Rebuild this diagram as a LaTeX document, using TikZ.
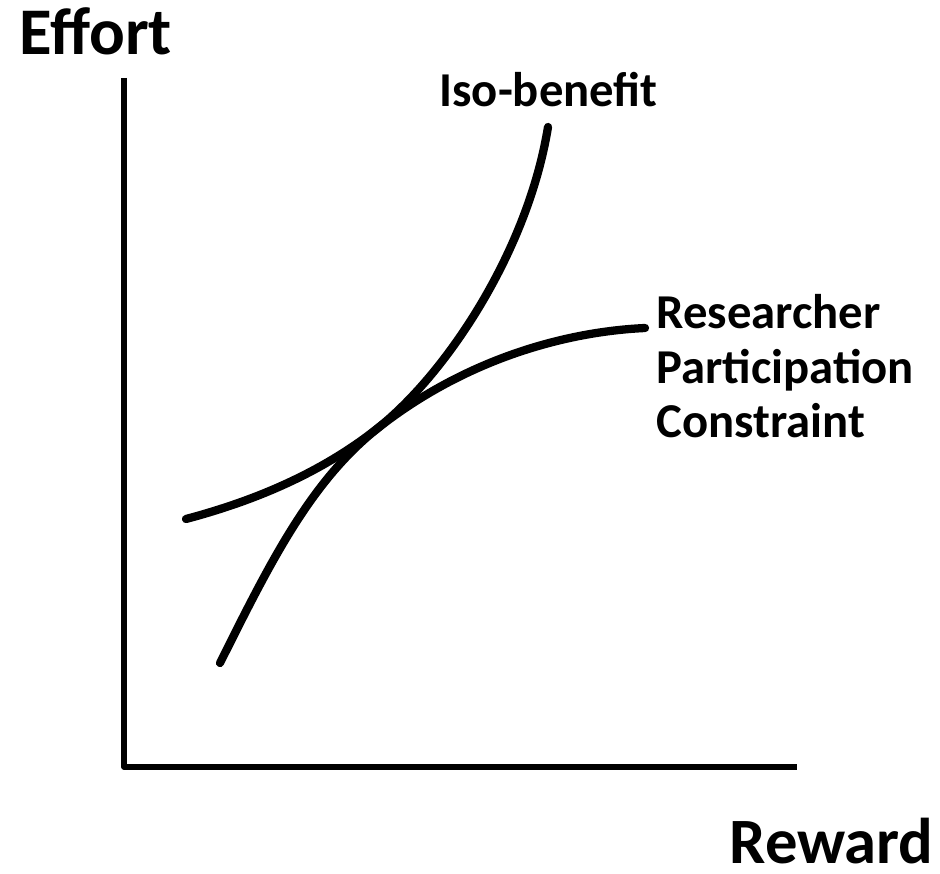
\documentclass[tikz,border=0pt]{standalone}
\usepackage{fontspec}
\setmainfont{Carlito}

\tikzset{every picture/.style={line width=0.75pt}}
\tikzset{axisline/.style={line width=4.3pt, line join=round},
  curveline/.style={line width=6.2pt, line cap=round},
  effortfont/.style={font=\fontsize{50}{55}\selectfont\bfseries},
  rewardfont/.style={font=\fontsize{48.5}{55}\selectfont\bfseries},
  smalltext/.style={font=\fontsize{36.5}{41}\selectfont\bfseries}}

\begin{document}
\begin{tikzpicture}[x=0.75pt,y=0.75pt,yscale=-1,xscale=1]
\useasboundingbox (0,0) rectangle (940,874);

%Axes
\coordinate (top) at (124,78);
\coordinate (origin) at (124,767);
\coordinate (right) at (797,767);
\draw [axisline] (top) -- (origin) -- (right) ;

%Tangent point
\coordinate (touch) at (378,428);

%Curve: participation constraint
\draw [curveline] (186,519) .. controls (246,503) and (316,477) .. (touch) .. controls (462,362) and (560,332) .. (645,328) ;
%Curve: iso-benefit
\draw [curveline] (220,663) .. controls (270,563) and (310,482) .. (touch) .. controls (448,372) and (528,250) .. (548,127) ;

% Text Node
\draw (19,55) node (effort) [anchor=base west][inner sep=0pt] [effortfont] {Effort};
% Text Node
\draw (439,107) node (iso) [anchor=base west][inner sep=0pt] [smalltext] {Iso-benefit};
% Text Node
\draw (656,294) node (rpc) [anchor=north west][inner sep=0pt] [smalltext, align=left] {Researcher\\Participation\\Constraint};
% Text Node
\draw (729,863) node (reward) [anchor=base west][inner sep=0pt] [rewardfont] {Reward};

\end{tikzpicture}
\end{document}
